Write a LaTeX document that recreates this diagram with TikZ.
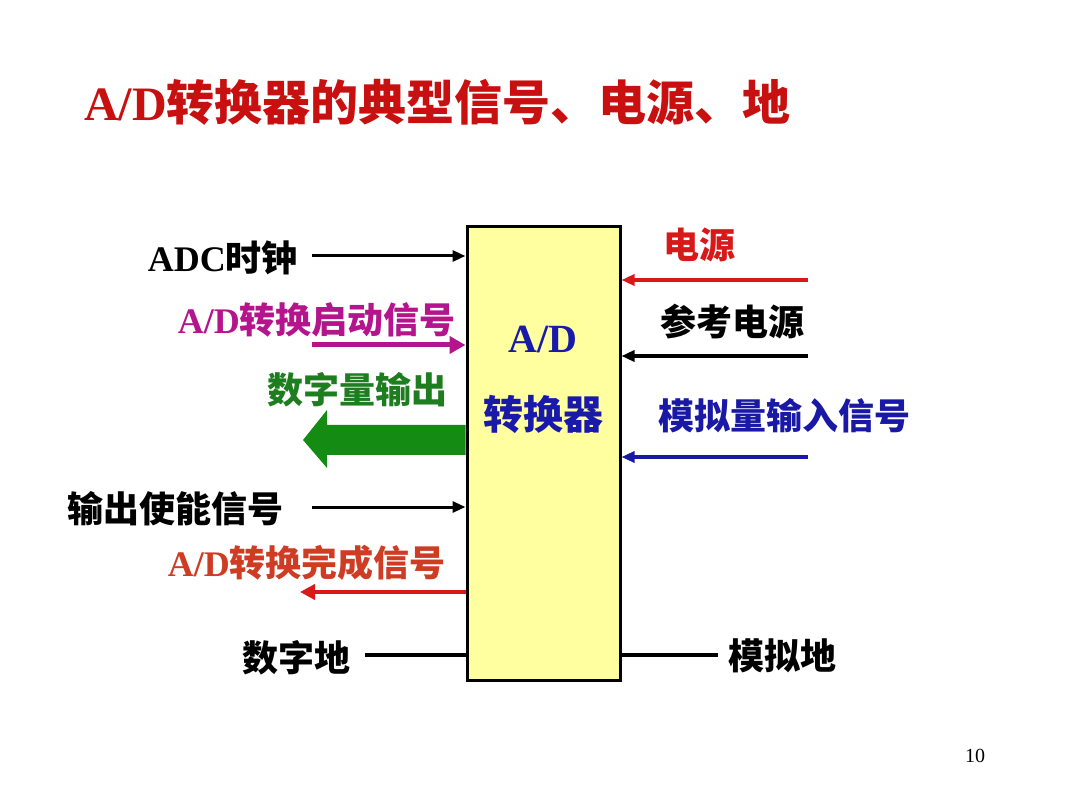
\documentclass[tikz,border=0pt]{standalone}
\usepackage{fontspec}
\setmainfont{Liberation Serif}
\newfontfamily\cjk{Noto Sans CJK SC}
\usetikzlibrary{arrows.meta}
\newcommand\zh[1]{{\cjk #1}}
\definecolor{ttlred}{RGB}{200,16,16}
\definecolor{boxfill}{RGB}{255,255,160}
\definecolor{boxblue}{RGB}{25,25,170}
\definecolor{magen}{RGB}{180,20,140}
\definecolor{dgreen}{RGB}{30,125,30}
\definecolor{agreen}{RGB}{20,140,20}
\definecolor{donered}{RGB}{205,60,35}
\definecolor{pwrred}{RGB}{215,25,25}
\definecolor{sigblue}{RGB}{25,25,165}
\begin{document}
\begin{tikzpicture}[x=1pt,y=-1pt,
  lbl/.style={inner sep=0pt,font=\fontsize{36}{36}\selectfont\bfseries},
  arr/.style={line width=3pt,-{Triangle[length=13pt,width=11pt]}},
  gnd/.style={line width=4pt}]
\useasboundingbox (0,0) rectangle (1080,810);
% title
\node[anchor=base west,inner sep=0pt,text=ttlred,font=\fontsize{48}{48}\selectfont\bfseries] (title) at (84,121) {A/D\zh{转换器的典型信号、电源、地}};
% box
\node[draw,line width=3pt,fill=boxfill,minimum width=153pt,minimum height=453pt,inner sep=0pt] (box) at (543.5,453.5) {};
\node[anchor=base,inner sep=0pt,text=boxblue,font=\fontsize{40}{40}\selectfont\bfseries] (boxt1) at (543,353) {A/D};
\node[anchor=base,inner sep=0pt,text=boxblue,font=\fontsize{40}{40}\selectfont\bfseries] (boxt2) at (543,430) {\zh{转换器}};
% left labels
\node[lbl,anchor=base east] (clk) at (298,272) {ADC\zh{时钟}};
\node[lbl,anchor=base east,text=magen] (start) at (456,334) {A/D\zh{转换启动信号}};
\node[lbl,anchor=base east,text=dgreen] (dout) at (448,404) {\zh{数字量输出}};
\node[lbl,anchor=base east] (oe) at (284,522) {\zh{输出使能信号}};
\node[lbl,anchor=base east,text=donered] (done) at (446,576) {A/D\zh{转换完成信号}};
\node[lbl,anchor=base east] (dgnd) at (351,671) {\zh{数字地}};
% right labels
\node[lbl,anchor=base west,text=pwrred] (pwr) at (663,259) {\zh{电源}};
\node[lbl,anchor=base west] (vref) at (660,336) {\zh{参考电源}};
\node[lbl,anchor=base west,text=sigblue] (ain) at (658,430) {\zh{模拟量输入信号}};
\node[lbl,anchor=base west] (agnd) at (728,669) {\zh{模拟地}};
% free ends
\coordinate (clkS) at (312,256);
\coordinate (startS) at (312,345);
\coordinate (oeS) at (312,507);
\coordinate (doneE) at (300,592);
\coordinate (dgndS) at (365,655);
\coordinate (pwrS) at (808,280);
\coordinate (vrefS) at (808,356);
\coordinate (ainS) at (808,457);
\coordinate (agndE) at (718,655);
% left connectors
\draw[arr] (clkS) -- (clkS -| box.west);
\draw[arr,magen,line width=5pt,-{Triangle[length=16pt,width=17pt]}] (startS) -- (startS -| box.west);
\draw[arr] (oeS) -- (oeS -| box.west);
\draw[arr,pwrred,line width=4.5pt,-{Triangle[length=15pt,width=15pt]}] (doneE -| box.west) -- (doneE);
\draw[gnd] (dgndS) -- (dgndS -| box.west);
% green bus arrow
\fill[agreen] (box.west |- 0,425) -- (327,425) -- (327,410) -- (303,440) -- (327,468) -- (327,455) -- (box.west |- 0,455) -- cycle;
% right connectors
\draw[arr,pwrred,line width=4pt] (pwrS) -- (pwrS -| box.east);
\draw[arr,line width=4pt] (vrefS) -- (vrefS -| box.east);
\draw[arr,sigblue,line width=4pt] (ainS) -- (ainS -| box.east);
\draw[gnd] (box.east |- agndE) -- (agndE);
% page number
\node[anchor=base,inner sep=0pt,font=\fontsize{20}{20}\selectfont] (pg) at (975,762) {10};
\end{tikzpicture}
\end{document}
